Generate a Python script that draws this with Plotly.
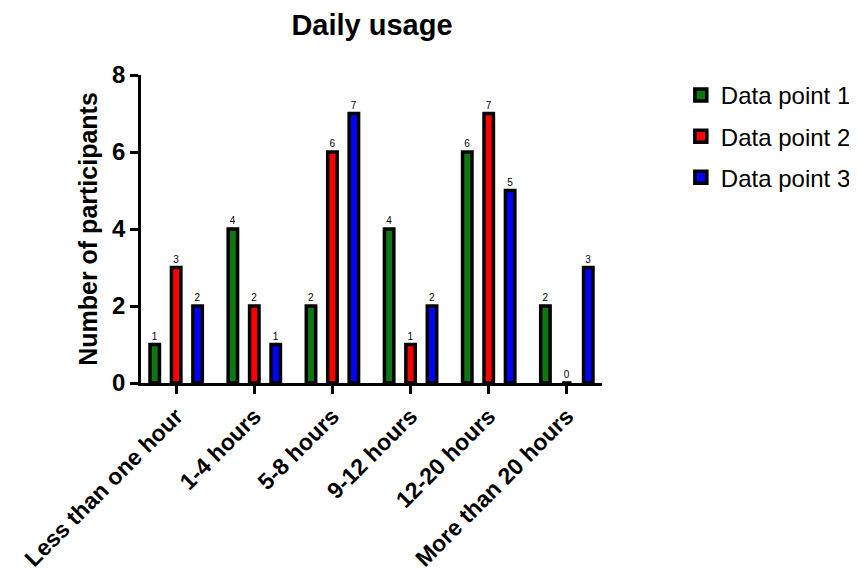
import plotly.graph_objects as go

categories = ["Less than one hour", "1-4 hours", "5-8 hours", "9-12 hours", "12-20 hours", "More than 20 hours"]
series_names = ["Data point 1", "Data point 2", "Data point 3"]
dp1 = [1, 4, 2, 4, 6, 2]
dp2 = [3, 2, 6, 1, 7, 0]
dp3 = [2, 1, 7, 2, 5, 3]
colors = ["#0f770f", "#ff0000", "#0000ff"]
y_ticks = [0, 2, 4, 6, 8]

FONT = "Arial, Liberation Sans, Helvetica, sans-serif"

fig = go.Figure()
for i, (name, vals, col) in enumerate(zip(series_names, [dp1, dp2, dp3], colors)):
    fig.add_trace(go.Bar(
        x=categories, y=vals, name=name, legendgroup=name,
        marker=dict(color=col, line=dict(color="black", width=3.5)),
        text=[str(v) for v in vals], textposition="outside",
        textfont=dict(size=10, color="black", family=FONT),
        cliponaxis=False,
    ))

W, H = 849, 564
fig.update_layout(
    width=W, height=H,
    barmode="group", bargap=0.177, bargroupgap=0.56,
    plot_bgcolor="white", paper_bgcolor="white",
    margin=dict(l=133, r=255, t=67, b=189, autoexpand=False),
    title=dict(text="<b>Daily usage</b>", x=364 / W, xanchor="center",
               y=1 - 17 / H, yanchor="middle",
               font=dict(size=29, color="black", family=FONT)),
    font=dict(family=FONT, color="black"),
    legend=dict(x=1.171, y=1.007, xanchor="left", yanchor="top",
                font=dict(size=24, color="black", family=FONT),
                traceorder="grouped", tracegroupgap=7,
                bgcolor="rgba(0,0,0,0)"),
    uniformtext=dict(minsize=10, mode="show"),
)
fig.update_xaxes(
    range=[-0.45, 5.45], showline=True, linecolor="black", linewidth=2.5,
    ticks="outside", ticklen=8, tickwidth=2.5, tickcolor="black",
    tickangle=-45, tickfont=dict(size=23, color="black", family=FONT),
    showgrid=False, automargin=False,
)
fig.for_each_xaxis(lambda a: a.update(ticktext=["<b>%s</b>" % c for c in categories], tickvals=categories))
fig.update_yaxes(
    range=[0, 8], tickvals=y_ticks, ticktext=["<b>%d</b>" % t for t in y_ticks],
    showline=True, linecolor="black", linewidth=2.5,
    ticks="outside", ticklen=8, tickwidth=2.5, tickcolor="black",
    tickfont=dict(size=24, color="black", family=FONT),
    showgrid=False, zeroline=False, automargin=False,
    title=dict(text="<b>Number of participants</b>", font=dict(size=25, color="black", family=FONT), standoff=8),
)

fig.write_html("out.html")
